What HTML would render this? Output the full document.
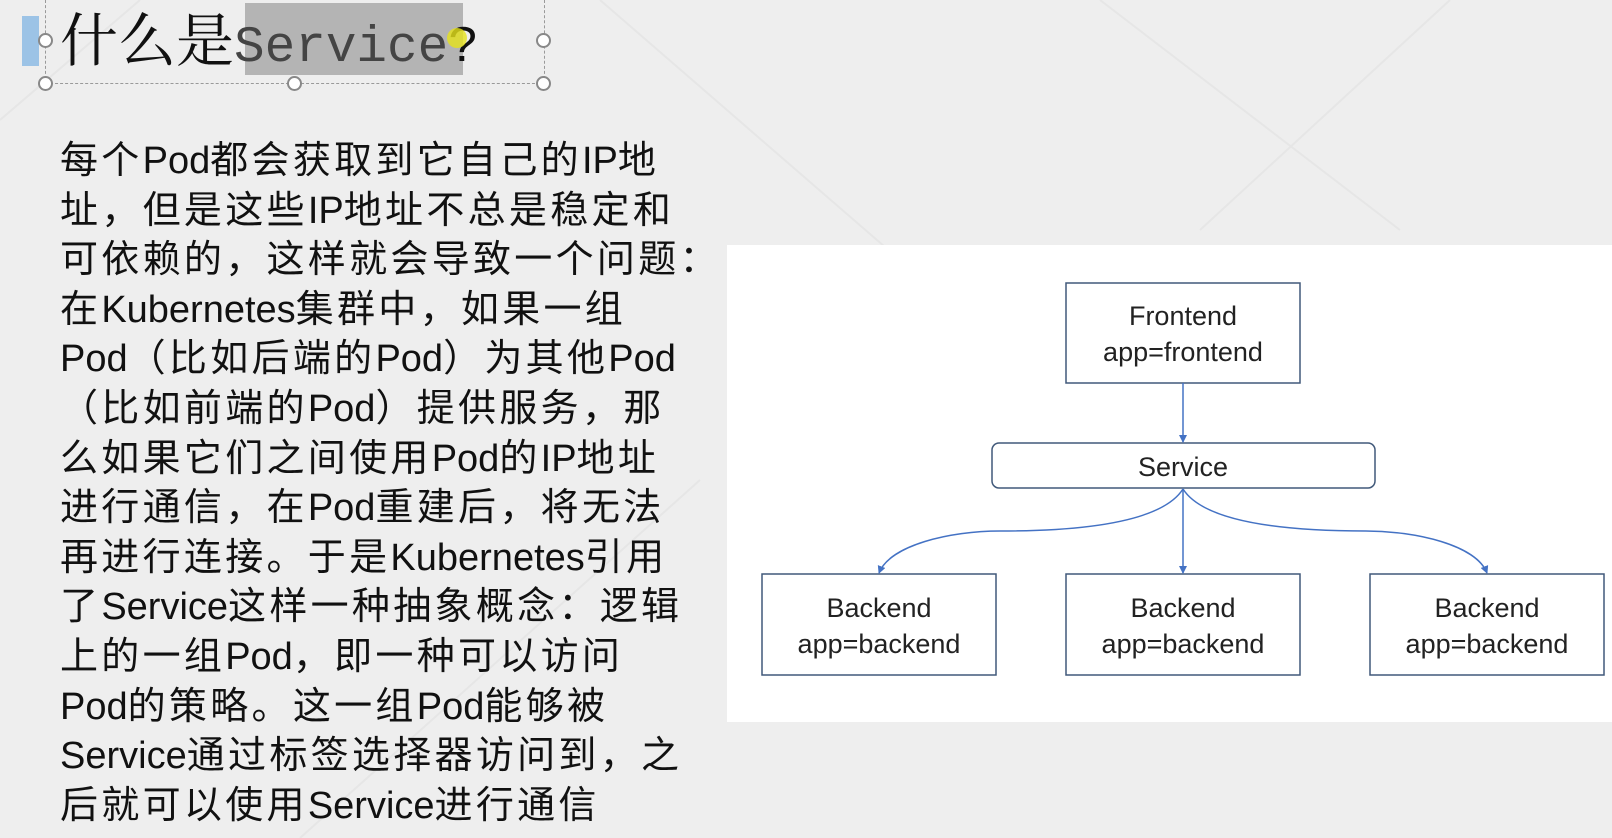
<!DOCTYPE html>
<html><head><meta charset="utf-8"><style>
html,body{margin:0;padding:0}
body{width:1612px;height:838px;overflow:hidden;background:#eeeeee;position:relative;font-family:"Liberation Sans","Noto Sans CJK SC",sans-serif}
.t{position:absolute;left:60px;top:137px;font-size:38px;line-height:49.6px;letter-spacing:3.3px;color:#111;white-space:nowrap}
.t i{font-style:normal;letter-spacing:0}
.title{position:absolute;left:60px;top:4px;font-family:"Liberation Serif","Noto Serif CJK SC",serif;font-size:58px;line-height:76px;color:#111;white-space:nowrap}
.sel{position:absolute;left:245px;top:3px;width:218px;height:72px;background:#b4b4b4}
.bar{position:absolute;left:22px;top:16px;width:17px;height:50px;background:#9cc3e6}
.h{position:absolute;width:11px;height:11px;border:2px solid #888;border-radius:50%;background:#fff}
</style></head><body>
<svg width="1612" height="838" style="position:absolute;left:0;top:0">
<g stroke="#e6e6e6" stroke-width="2" fill="none">
<path d="M0 120 L140 0 M300 838 L700 480 M600 0 L900 260 M1100 0 L1400 230 M1200 230 L1450 0"/>
</g>
</svg>
<div class="sel"></div>
<div class="bar"></div>
<div style="position:absolute;left:45px;top:0;width:498px;height:83px;border:1px dashed #999;border-top:none"></div>
<div class="h" style="left:38px;top:33px"></div>
<div class="h" style="left:536px;top:33px"></div>
<div class="h" style="left:38px;top:76px"></div>
<div class="h" style="left:287px;top:76px"></div>
<div class="h" style="left:536px;top:76px"></div>
<div class="title">什么是<span style="font-family:'Liberation Mono',monospace;font-size:51px;color:#444;letter-spacing:0">Service</span><span style="font-family:'Liberation Mono',monospace;font-size:51px">?</span></div>
<div style="position:absolute;left:447px;top:28px;width:20px;height:20px;border-radius:50%;background:#e6e21a;opacity:.8"></div>
<div class="t">每个<i>Pod</i>都会获取到它自己的<i>IP</i>地<br>址，但是这些<i>IP</i>地址不总是稳定和<br>可依赖的，这样就会导致一个问题：<br>在<i>Kubernetes</i>集群中，如果一组<br><i>Pod</i>（比如后端的<i>Pod</i>）为其他<i>Pod</i><br>（比如前端的<i>Pod</i>）提供服务，那<br>么如果它们之间使用<i>Pod</i>的<i>IP</i>地址<br>进行通信，在<i>Pod</i>重建后，将无法<br>再进行连接。于是<i>Kubernetes</i>引用<br>了<i>Service</i>这样一种抽象概念：逻辑<br>上的一组<i>Pod</i>，即一种可以访问<br><i>Pod</i>的策略。这一组<i>Pod</i>能够被<br><i>Service</i>通过标签选择器访问到，之<br>后就可以使用<i>Service</i>进行通信</div>
<svg width="1612" height="838" style="position:absolute;left:0;top:0" font-family="Liberation Sans, Noto Sans CJK SC, sans-serif" font-size="27" fill="#222">
<defs><marker id="a" markerWidth="8" markerHeight="8" refX="7" refY="4" orient="auto" markerUnits="userSpaceOnUse"><path d="M0 0 L8 4 L0 8 z" fill="#4472c4"/></marker></defs>
<rect x="727" y="245" width="885" height="477" fill="#fff"/>
<g fill="#fff" stroke="#41597a" stroke-width="1.5">
<rect x="1066" y="283" width="234" height="100"/>
<rect x="992" y="443" width="383" height="45" rx="7"/>
<rect x="762" y="574" width="234" height="101"/>
<rect x="1066" y="574" width="234" height="101"/>
<rect x="1370" y="574" width="234" height="101"/>
</g>
<g stroke="#4472c4" stroke-width="1.5" fill="none" marker-end="url(#a)">
<path d="M1183 383 L1183 442"/>
<path d="M1183 489 L1183 573"/>
<path d="M1183 489 C1160 525 1070 531 1000 531 C950 531 890 545 879 573"/>
<path d="M1183 489 C1206 525 1296 531 1366 531 C1416 531 1476 545 1487 573"/>
</g>
<g text-anchor="middle">
<text x="1183" y="325">Frontend</text><text x="1183" y="361">app=frontend</text>
<text x="1183" y="476">Service</text>
<text x="879" y="617">Backend</text><text x="879" y="653">app=backend</text>
<text x="1183" y="617">Backend</text><text x="1183" y="653">app=backend</text>
<text x="1487" y="617">Backend</text><text x="1487" y="653">app=backend</text>
</g>
</svg>
</body></html>
